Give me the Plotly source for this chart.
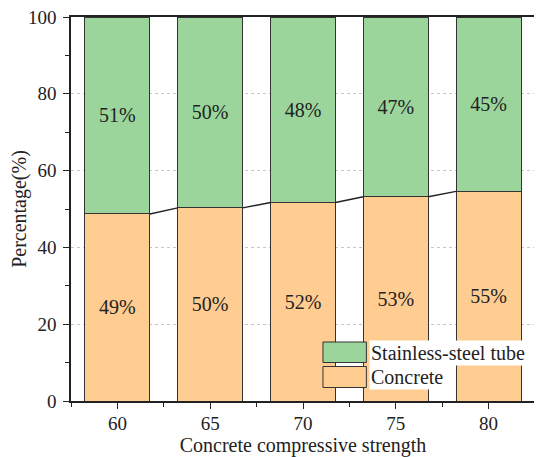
import plotly.graph_objects as go

strengths = [60, 65, 70, 75, 80]
concrete = [48.7, 50.3, 51.7, 53.2, 54.6]
steel = [51.3, 49.7, 48.3, 46.8, 45.4]
series_names = ["Stainless-steel tube", "Concrete"]
y_ticks = [0, 20, 40, 60, 80, 100]

GREEN = "#9BD59B"
ORANGE = "#FFCC91"
EDGE = "#333333"
FONT = "Liberation Serif"
BAR_W = 3.5
FS = 20
TFS = 19

fig = go.Figure()
fig.add_trace(go.Bar(
    x=strengths, y=concrete, width=BAR_W, name=series_names[1],
    marker=dict(color=ORANGE, line=dict(color=EDGE, width=1)),
    text=[f"{round(v)}%" for v in concrete], textposition="inside",
    insidetextanchor="middle", textangle=0, constraintext="none",
    textfont=dict(family=FONT, size=FS, color="#222222"),
))
fig.add_trace(go.Bar(
    x=strengths, y=steel, width=BAR_W, name=series_names[0],
    marker=dict(color=GREEN, line=dict(color=EDGE, width=1)),
    text=[f"{round(v)}%" for v in steel], textposition="inside",
    insidetextanchor="middle", textangle=0, constraintext="none",
    textfont=dict(family=FONT, size=FS, color="#222222"),
))

# connector lines between concrete tops
lx, ly = [], []
for i in range(len(strengths) - 1):
    lx += [strengths[i] + BAR_W / 2, strengths[i + 1] - BAR_W / 2, None]
    ly += [concrete[i], concrete[i + 1], None]
fig.add_trace(go.Scatter(x=lx, y=ly, mode="lines",
                         line=dict(color="#222222", width=1.4), hoverinfo="skip"))

# manual legend (positions given relative to the plot area)
def px2x(px):
    return (px - 70.5) / 465.0

def py2y(py):
    return (401 - py) / 384.0

shapes = [
    dict(type="rect", xref="paper", yref="paper", layer="above",
         x0=px2x(323), x1=px2x(366.5), y0=py2y(362.5), y1=py2y(342),
         fillcolor=GREEN, line=dict(color=EDGE, width=1)),
    dict(type="rect", xref="paper", yref="paper", layer="above",
         x0=px2x(323), x1=px2x(366.5), y0=py2y(387.5), y1=py2y(366.5),
         fillcolor=ORANGE, line=dict(color=EDGE, width=1)),
]
annotations = [
    dict(xref="paper", yref="paper", x=px2x(369), y=py2y(352.5),
         xanchor="left", yanchor="middle", text=series_names[0],
         showarrow=False, bgcolor="white",
         font=dict(family=FONT, size=FS, color="#222222")),
    dict(xref="paper", yref="paper", x=px2x(369), y=py2y(377),
         xanchor="left", yanchor="middle", text=series_names[1],
         showarrow=False, bgcolor="white",
         font=dict(family=FONT, size=FS, color="#222222")),
]

# page body has an 8px margin, so the figure is sized to fit the window
fig.update_layout(
    barmode="stack", showlegend=False, width=534, height=449,
    margin=dict(l=62.5, r=6.5, t=9, b=56),
    paper_bgcolor="white", plot_bgcolor="white",
    font=dict(family=FONT, size=FS, color="#222222"),
    shapes=shapes, annotations=annotations,
)
fig.update_xaxes(
    automargin=False, ticklabeloverflow="allow", ticklabelstandoff=-2,
    range=[57.5, 82.5], tickmode="array", tickvals=strengths,
    ticktext=[str(s) for s in strengths],
    ticks="outside", ticklen=6, tickwidth=1.3, tickcolor="#222222",
    showline=True, linecolor="#222222", linewidth=1.5, mirror=True,
    showgrid=False, zeroline=False,
    minor=dict(ticks="outside", ticklen=4, tickwidth=1.3, tickcolor="#222222",
               tick0=0, dtick=2.5, showgrid=False),
    title=dict(text="Concrete compressive strength", standoff=2,
               font=dict(family=FONT, size=FS)),
    tickfont=dict(family=FONT, size=TFS),
)
fig.update_yaxes(
    automargin=False, ticklabeloverflow="allow", ticklabelstandoff=3,
    range=[0, 100], tickmode="array", tickvals=y_ticks,
    ticks="outside", ticklen=6, tickwidth=1.3, tickcolor="#222222",
    showline=True, linecolor="#222222", linewidth=1.5,
    showgrid=True, gridcolor="#c8c8c8", gridwidth=1, griddash="3px,3px",
    zeroline=False,
    minor=dict(ticks="outside", ticklen=4, tickwidth=1.3, tickcolor="#222222",
               tick0=0, dtick=10, showgrid=False),
    title=dict(text="Percentage(%)", standoff=12, font=dict(family=FONT, size=FS)),
    tickfont=dict(family=FONT, size=TFS),
)

fig.write_html("out.html")
